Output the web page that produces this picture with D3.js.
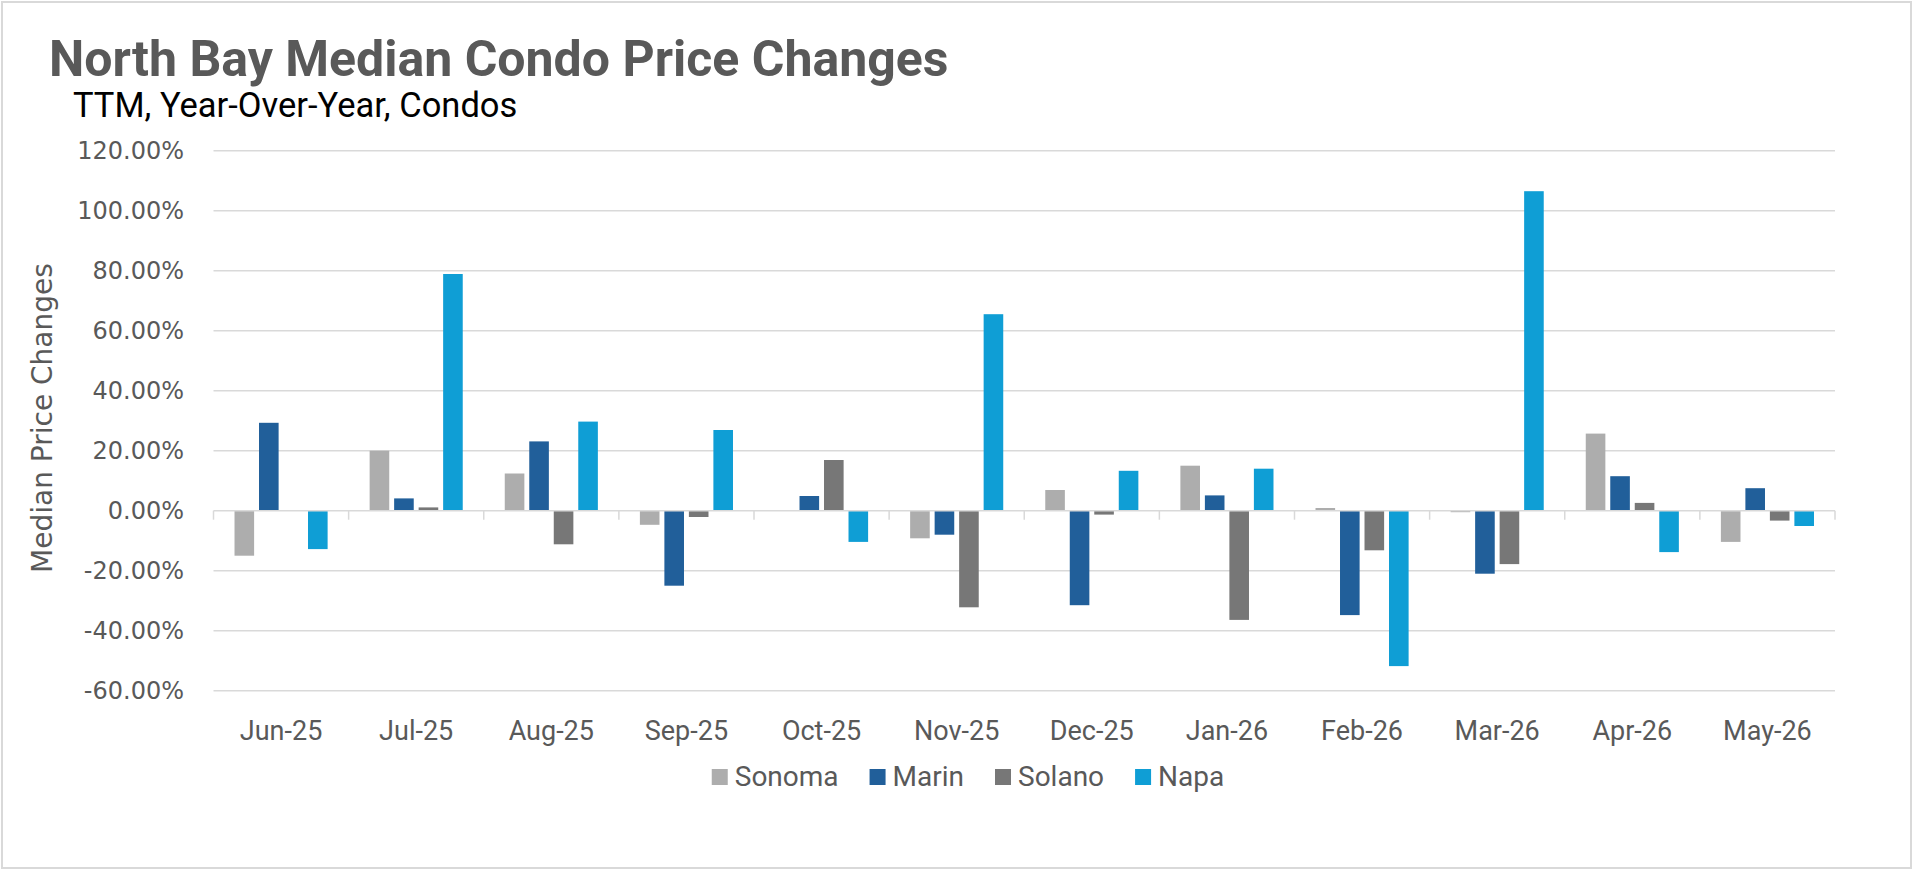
<!DOCTYPE html>
<html>
<head>
<meta charset="utf-8">
<script src="https://cdn.jsdelivr.net/npm/d3@7"></script>
<style>
  body { margin: 0; background: #fff; }
  svg { display: block; }
</style>
</head>
<body>
<div id="chart"></div>
<script>
// data (percent)
const months = ["Jun-25", "Jul-25", "Aug-25", "Sep-25", "Oct-25", "Nov-25",
                "Dec-25", "Jan-26", "Feb-26", "Mar-26", "Apr-26", "May-26"]
const seriesNames = ["Sonoma", "Marin", "Solano", "Napa"]
const sonoma = [-15.0, 20.0, 12.4, -4.7, 0, -9.2, 6.9, 15.0, 0.9, -0.5, 25.7, -10.4]
const marin = [29.3, 4.1, 23.1, -25.0, 4.9, -8.0, -31.5, 5.1, -34.8, -21.0, 11.5, 7.5]
const solano = [0, 1.1, -11.2, -2.1, 16.9, -32.2, -1.3, -36.4, -13.2, -17.8, 2.6, -3.3]
const napa = [-12.8, 78.9, 29.7, 26.9, -10.4, 65.5, 13.3, 14.0, -51.8, 106.5, -13.8, -5.1]
const yTicks = [-60, -40, -20, 0, 20, 40, 60, 80, 100, 120]

const seriesValues = [sonoma, marin, solano, napa]
const colors = ["#adadad", "#215f9a", "#777777", "#0f9ed5"]

let width = 1920
let height = 872

let plot = { left: 213.5, right: 1835, top: 150.7, bottom: 690.7 }

let svg = d3.select("#chart")
    .append("svg")
    .attr("width", width)
    .attr("height", height)

// outer frame
svg.append("rect")
    .attr("x", 2).attr("y", 2)
    .attr("width", 1909).attr("height", 866)
    .attr("fill", "#fff")
    .attr("stroke", "#d9d9d9")
    .attr("stroke-width", 2)

let x0 = d3.scaleBand()
    .domain(months)
    .range([plot.left, plot.right])
    .paddingInner(0.311)
    .paddingOuter(0.1555)

let x1 = d3.scaleBand()
    .domain(seriesNames)
    .range([0, x0.bandwidth()])
    .paddingInner(0.2)

let y = d3.scaleLinear()
    .domain([-60, 120])
    .range([plot.bottom, plot.top])

// gridlines
svg.append("g")
    .selectAll("line")
    .data(yTicks.filter(d => d !== 0))
    .enter()
    .append("line")
    .attr("x1", plot.left)
    .attr("x2", plot.right)
    .attr("y1", d => y(d))
    .attr("y2", d => y(d))
    .attr("stroke", "#d9d9d9")
    .attr("stroke-width", 1.5)

// y axis labels
let yAxis = d3.axisLeft(y)
    .tickValues(yTicks)
    .tickSize(0)
    .tickPadding(0)
    .tickFormat(d => d.toFixed(2) + "%")

let yAxisG = svg.append("g")
    .attr("transform", `translate(184, 0)`)
    .call(yAxis)
yAxisG.select(".domain").remove()
yAxisG.selectAll("text")
    .attr("fill", "#595959")
    .style("font-family", "'DejaVu Sans', sans-serif")
    .style("font-size", "24px")

// bars
let groups = svg.append("g")
    .selectAll("g")
    .data(months)
    .enter()
    .append("g")
    .attr("transform", d => `translate(${x0(d)}, 0)`)

groups.selectAll("rect")
    .data((m, i) => seriesNames.map((s, j) => ({ series: s, value: seriesValues[j][i], color: colors[j] })))
    .enter()
    .append("rect")
    .attr("x", d => x1(d.series))
    .attr("width", x1.bandwidth())
    .attr("y", d => y(Math.max(0, d.value)))
    .attr("height", d => Math.abs(y(d.value) - y(0)))
    .attr("fill", d => d.color)

// x axis at zero with category ticks
let half = (x0.step() - x0.bandwidth()) / 2
let boundaries = months.map(m => x0(m) - half).concat([plot.right])

let xAxisG = svg.append("g")
xAxisG.append("line")
    .attr("x1", plot.left)
    .attr("x2", plot.right)
    .attr("y1", y(0))
    .attr("y2", y(0))
    .attr("stroke", "#d9d9d9")
    .attr("stroke-width", 1.5)
xAxisG.selectAll(".tick")
    .data(boundaries)
    .enter()
    .append("line")
    .attr("x1", d => d)
    .attr("x2", d => d)
    .attr("y1", y(0))
    .attr("y2", y(0) + 9)
    .attr("stroke", "#d9d9d9")
    .attr("stroke-width", 1.5)

// month labels
svg.append("g")
    .selectAll("text")
    .data(months)
    .enter()
    .append("text")
    .attr("x", d => x0(d) + x0.bandwidth() / 2)
    .attr("y", 740)
    .attr("text-anchor", "middle")
    .attr("fill", "#595959")
    .style("font-family", "Roboto, sans-serif")
    .style("font-size", "27px")
    .text(d => d)

// y axis title
svg.append("text")
    .attr("transform", "translate(52, 418) rotate(-90)")
    .attr("text-anchor", "middle")
    .attr("fill", "#595959")
    .style("font-family", "'DejaVu Sans', sans-serif")
    .style("font-size", "28px")
    .text("Median Price Changes")

// titles
svg.append("text")
    .attr("x", 49)
    .attr("y", 76)
    .attr("fill", "#595959")
    .style("font-family", "Roboto, sans-serif")
    .style("font-weight", "bold")
    .style("font-size", "50px")
    .text("North Bay Median Condo Price Changes")

svg.append("text")
    .attr("x", 73)
    .attr("y", 117)
    .attr("fill", "#000")
    .style("font-family", "Roboto, sans-serif")
    .style("font-size", "34.5px")
    .text("TTM, Year-Over-Year, Condos")

// legend
let legend = svg.append("g")
let lx = 0
seriesNames.forEach(function(name, i){
    let item = legend.append("g").attr("transform", `translate(${lx}, 0)`)
    item.append("rect")
        .attr("x", 0)
        .attr("y", 769)
        .attr("width", 16)
        .attr("height", 16)
        .attr("fill", colors[i])
    let t = item.append("text")
        .attr("x", 23)
        .attr("y", 786)
        .attr("fill", "#595959")
        .style("font-family", "Roboto, sans-serif")
        .style("font-size", "28px")
        .text(name)
    lx += 23 + t.node().getComputedTextLength() + 31
})
let legendW = lx - 31
legend.attr("transform", `translate(${968 - legendW / 2}, 0)`)
</script>
</body>
</html>
